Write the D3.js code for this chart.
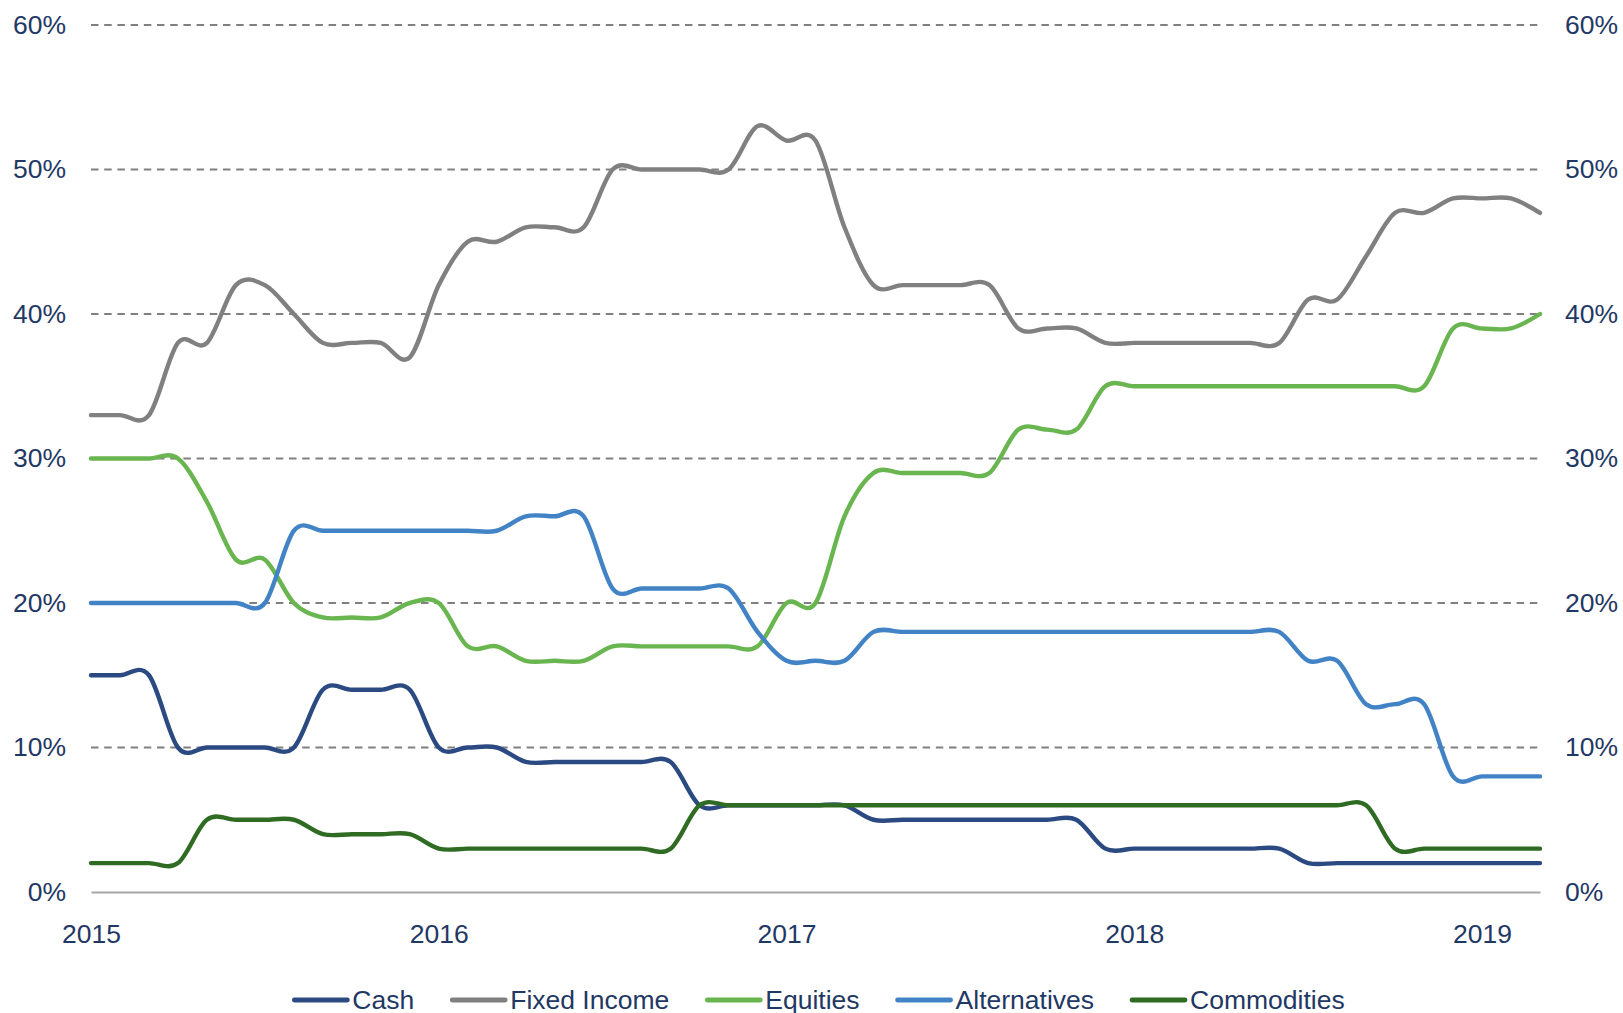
<!DOCTYPE html>
<html>
<head>
<meta charset="utf-8">
<script src="https://cdn.jsdelivr.net/npm/d3@7"></script>
<style>
  body { margin: 0; background: #fff; }
  svg text { font-family: "Liberation Sans", Arial, sans-serif; fill: #1F3864; }
</style>
</head>
<body>
<div id="chart"></div>
<script>
// monthly allocations, Jan 2015 .. Mar 2019 (percent)
var months = d3.timeMonth.range(new Date(2015, 0, 1), new Date(2019, 3, 1));

var cash = [15,15,15,10,10,10,10,10,14,14,14,14,10,10,10,9,9,9,9,9,9,6,6,6,6,6,6,
  5,5,5,5,5,5,5,5,3,3,3,3,3,3,3,2,2,2,2,2,2,2,2,2];
var fixedIncome = [33,33,33,38,38,42,42,40,38,38,38,37,42,45,45,46,46,46,50,50,50,50,50,53,52,52,46,
  42,42,42,42,42,39,39,39,38,38,38,38,38,38,38,41,41,44,47,47,48,48,48,47];
var equities = [30,30,30,30,27,23,23,20,19,19,19,20,20,17,17,16,16,16,17,17,17,17,17,17,20,20,26,
  29,29,29,29,29,32,32,32,35,35,35,35,35,35,35,35,35,35,35,35,39,39,39,40];
var alternatives = [20,20,20,20,20,20,20,25,25,25,25,25,25,25,25,26,26,26,21,21,21,21,21,18,16,16,16,
  18,18,18,18,18,18,18,18,18,18,18,18,18,18,18,16,16,13,13,13,8,8,8,8];
var commodities = [2,2,2,2,5,5,5,5,4,4,4,4,3,3,3,3,3,3,3,3,3,6,6,6,6,6,6,
  6,6,6,6,6,6,6,6,6,6,6,6,6,6,6,6,6,6,3,3,3,3,3,3];

var seriesNames = ['Cash', 'Fixed Income', 'Equities', 'Alternatives', 'Commodities'];
var seriesValues = [cash, fixedIncome, equities, alternatives, commodities];
var colors = ['#2C4A82', '#808080', '#69B54F', '#4283C6', '#2F6B22'];

var yTicks = [0, 10, 20, 30, 40, 50, 60];
var yearLabels = ['2015', '2016', '2017', '2018', '2019'];

var W = 1623, H = 1013;
var m = { top: 25, right: 83, bottom: 121, left: 91 };
var w = W - m.left - m.right;
var h = H - m.top - m.bottom;
var fs = 26.5;

var svg = d3.select('#chart').append('svg')
  .attr('width', W)
  .attr('height', H);

var x = d3.scalePoint().domain(d3.range(months.length)).range([m.left, m.left + w]);
var y = d3.scaleLinear().domain([0, 60]).range([m.top + h, m.top]);

// gridlines
svg.append('g').attr('class', 'grid')
  .selectAll('line')
  .data(yTicks.filter(function(d) { return d > 0; }))
  .enter().append('line')
    .attr('x1', m.left).attr('x2', m.left + w)
    .attr('y1', function(d) { return y(d); })
    .attr('y2', function(d) { return y(d); })
    .attr('stroke', '#808080')
    .attr('stroke-width', 1.8)
    .attr('stroke-dasharray', '7.5,5.7');

// baseline / x axis
var xaxis = d3.axisBottom(x)
  .tickValues(d3.range(months.length).filter(function(i) { return months[i].getMonth() === 0; }))
  .tickFormat(function(i) { return yearLabels[months[i].getFullYear() - 2015]; })
  .tickSize(0)
  .tickPadding(32);

var gx = svg.append('g')
  .attr('transform', 'translate(0,' + y(0) + ')')
  .call(xaxis);
gx.select('.domain').attr('stroke', '#a6a6a6').attr('stroke-width', 1.8);
gx.selectAll('text').attr('font-size', fs).attr('fill', '#1F3864')
  .style('font-family', '"Liberation Sans", Arial, sans-serif');

// y axes, both sides
var yl = d3.axisLeft(y).tickValues(yTicks).tickSize(0).tickPadding(25)
  .tickFormat(function(d) { return d + '%'; });
var yr = d3.axisRight(y).tickValues(yTicks).tickSize(0).tickPadding(25)
  .tickFormat(function(d) { return d + '%'; });

[ [yl, m.left], [yr, m.left + w] ].forEach(function(a) {
  var g = svg.append('g').attr('transform', 'translate(' + a[1] + ',0)').call(a[0]);
  g.select('.domain').remove();
  g.selectAll('text').attr('font-size', fs).attr('fill', '#1F3864')
    .style('font-family', '"Liberation Sans", Arial, sans-serif');
});

// lines
var line = d3.line()
  .x(function(d, i) { return x(i); })
  .y(function(d) { return y(d); })
  .curve(d3.curveCardinal.tension(0));

svg.append('g').attr('class', 'lines')
  .selectAll('path')
  .data(seriesValues)
  .enter().append('path')
    .attr('d', line)
    .attr('fill', 'none')
    .attr('stroke', function(d, i) { return colors[i]; })
    .attr('stroke-width', 4.4)
    .attr('stroke-linejoin', 'round')
    .attr('stroke-linecap', 'round');

// legend
var leg = svg.append('g').attr('class', 'legend');
var items = leg.selectAll('g').data(seriesNames).enter().append('g');
items.append('line')
  .attr('x1', 0).attr('x2', 53)
  .attr('y1', 0).attr('y2', 0)
  .attr('stroke', function(d, i) { return colors[i]; })
  .attr('stroke-width', 4.8)
  .attr('stroke-linecap', 'round');
items.append('text')
  .attr('x', 58)
  .attr('y', 8.5)
  .attr('font-size', fs)
  .text(function(d) { return d; });

var gap = 38, pos = 0, offs = [];
items.each(function() {
  offs.push(pos);
  pos += 58 + d3.select(this).select('text').node().getComputedTextLength() + gap;
});
var total = pos - gap;
var start = m.left + w / 2 - total / 2 + 4;
items.attr('transform', function(d, i) { return 'translate(' + (start + offs[i]) + ',' + 1000 + ')'; });
</script>
</body>
</html>
